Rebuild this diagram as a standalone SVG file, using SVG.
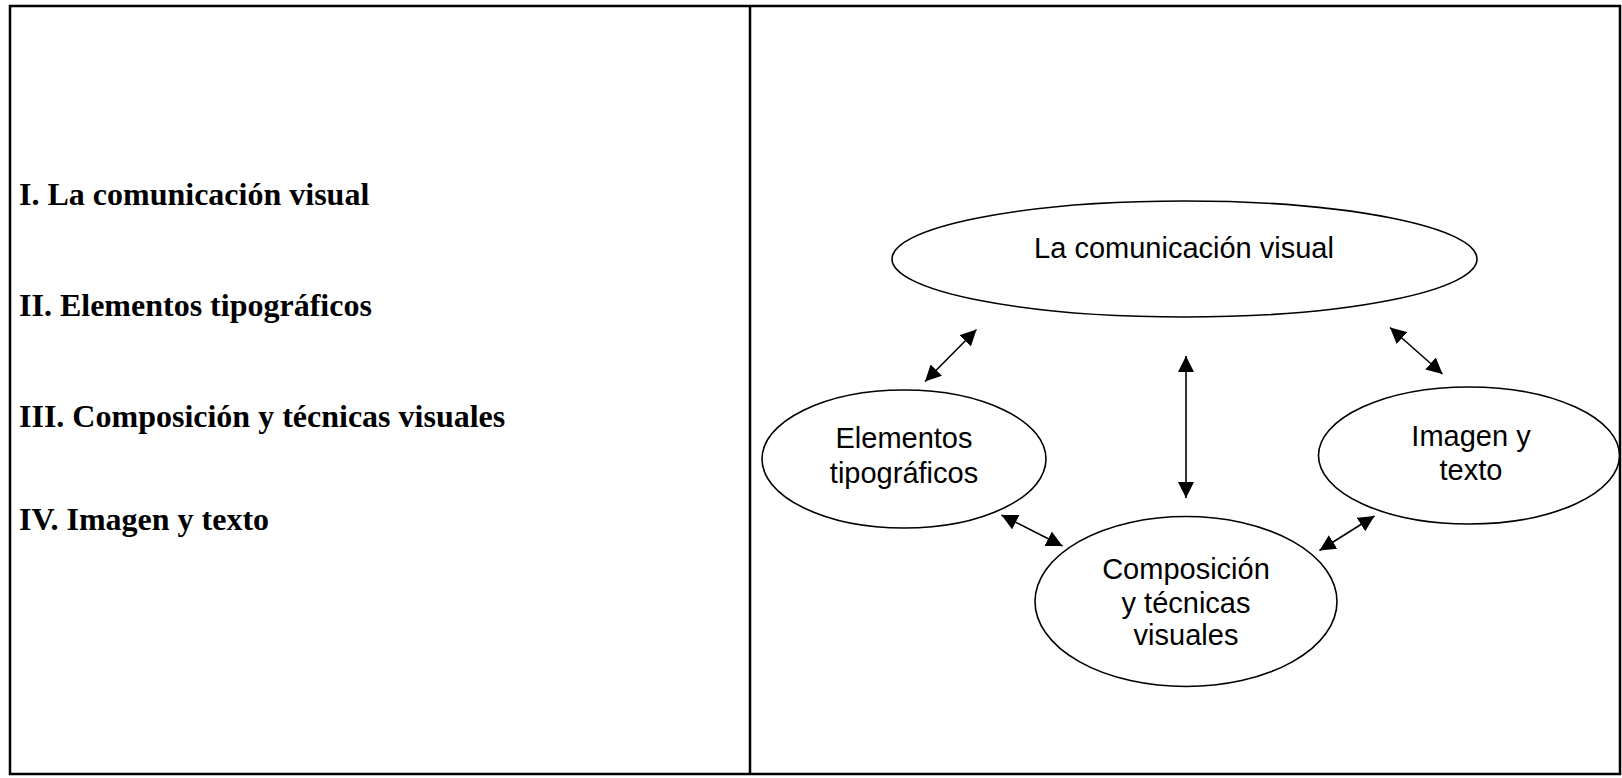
<svg xmlns="http://www.w3.org/2000/svg" width="1622" height="778" viewBox="0 0 1622 778">
<style>
.frame{fill:none;stroke:#000;stroke-width:2.5}
.node{fill:#fff;stroke:#000;stroke-width:1.6}
.lbl{font-family:"Liberation Sans",Arial,sans-serif;font-size:29px;fill:#000;text-anchor:middle}
.toc{font-family:"Liberation Serif","Times New Roman",serif;font-size:32px;font-weight:bold;fill:#000}
.conn{stroke:#000;stroke-width:1.6;fill:none;marker-start:url(#ah);marker-end:url(#ah)}
</style>
<defs>
<marker id="ah" markerUnits="userSpaceOnUse" markerWidth="16" markerHeight="16" viewBox="0 0 15 15" refX="15" refY="7.5" orient="auto-start-reverse">
<path d="M0,0 L15,7.5 L0,15 z" fill="#000"/>
</marker>
</defs>
<rect width="1622" height="778" fill="#fff"/>
<g id="frame">
<rect class="frame" x="10" y="6" width="1610" height="768"/>
<line class="frame" x1="750" y1="6" x2="750" y2="774"/>
</g>
<g id="toc">
<text class="toc" x="19" y="205">I. La comunicación visual</text>
<text class="toc" x="19" y="316">II. Elementos tipográficos</text>
<text class="toc" x="19" y="427">III. Composición y técnicas visuales</text>
<text class="toc" x="19" y="530">IV. Imagen y texto</text>
</g>
<g id="connectors">
<line class="conn" x1="925" y1="381.5" x2="976.5" y2="329.5"/>
<line class="conn" x1="1186" y1="356" x2="1186" y2="498"/>
<line class="conn" x1="1390" y1="327.5" x2="1442.5" y2="374"/>
<line class="conn" x1="1001.5" y1="515" x2="1062.5" y2="546"/>
<line class="conn" x1="1319.5" y1="550.5" x2="1374.5" y2="516"/>
</g>
<g id="node-comunicacion">
<ellipse class="node" cx="1184.5" cy="259" rx="292.5" ry="58"/>
<text class="lbl" x="1184" y="258">La comunicación visual</text>
</g>
<g id="node-elementos">
<ellipse class="node" cx="904" cy="459" rx="142" ry="69"/>
<text class="lbl" x="904" y="448">Elementos</text>
<text class="lbl" x="904" y="483">tipográficos</text>
</g>
<g id="node-imagen">
<ellipse class="node" cx="1469" cy="455.5" rx="150.5" ry="68.5"/>
<text class="lbl" x="1471" y="446">Imagen y</text>
<text class="lbl" x="1471" y="480">texto</text>
</g>
<g id="node-composicion">
<ellipse class="node" cx="1186" cy="601.5" rx="151" ry="85"/>
<text class="lbl" x="1186" y="579">Composición</text>
<text class="lbl" x="1186" y="613">y técnicas</text>
<text class="lbl" x="1186" y="645">visuales</text>
</g>
</svg>
